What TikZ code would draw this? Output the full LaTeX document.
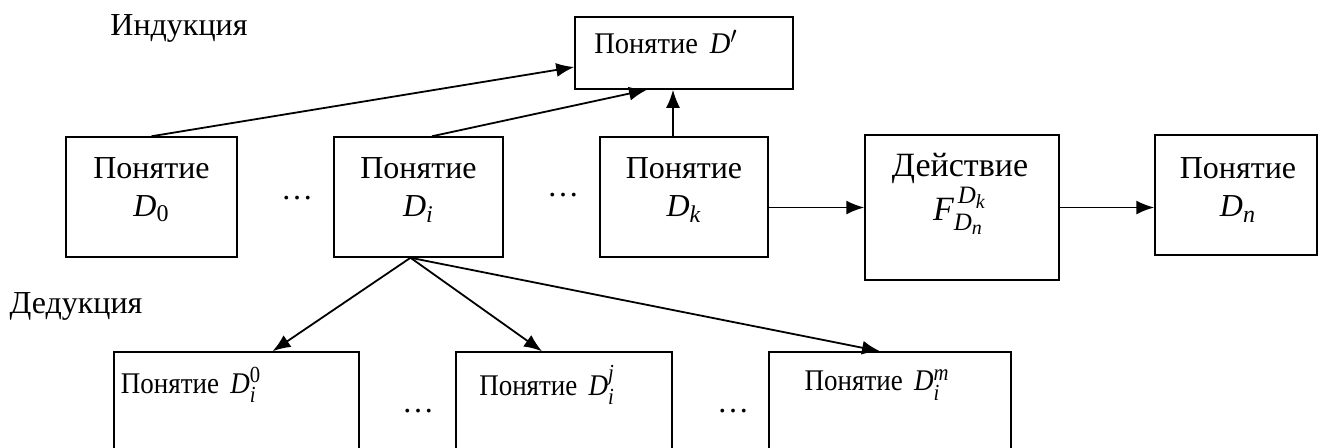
\documentclass[tikz,border=0pt]{standalone}
\usepackage{fontspec}
\usepackage{amsmath}
\usepackage{graphicx}
\setmainfont{Liberation Serif}
\DeclareMathSizes{16}{16}{12}{10}
\DeclareMathSizes{17}{17}{12.5}{10}
\DeclareMathSizes{15}{15}{11.5}{9}
\usetikzlibrary{arrows.meta,calc}
\begin{document}
\begin{tikzpicture}[x=0.5pt,y=-0.5pt,
  box/.style n args={2}{draw, line width=0.75pt, inner sep=0pt,
    minimum width={#1*0.5pt}, minimum height={#2*0.5pt}},
  txt/.style={font=\fontsize{16pt}{19pt}\selectfont, inner sep=0pt, align=center},
  txtb/.style={font=\fontsize{15pt}{18pt}\selectfont, inner sep=0pt, align=center},
  txta/.style={font=\fontsize{17pt}{22pt}\selectfont, inner sep=0pt, align=center},
  arr/.style={line width=0.9pt, -{Latex[length=9pt,width=7pt]}}]
\useasboundingbox (0,0) rectangle (1320,447);
\clip (0,0) rectangle (1320,447);
% labels
\node[txt] (ind) at (179,28) {Индукция};
\node[txt] (ded) at (76,306) {Дедукция};
% top box
\node[box={218}{72}] (dp) at (684,53) {};
\node[txtb] (dpt) at (666,42) {\scalebox{0.95}[1]{Понятие~\,$\textit{D}'$}};
% middle row
\node[box={171}{120}] (d0) at (151.5,197) {};
\node[txt] (d0t) at (151.5,190) {Понятие\\$\textit{D}_{\textrm{0}}$};
\node[box={169}{120}] (di) at (418.5,197) {};
\node[txt] (dit) at (418.5,190) {Понятие\\$\textit{D}_{\textit{i}}$};
\node[box={168}{120}] (dk) at (684,197) {};
\node[txt] (dkt) at (684,190) {Понятие\\$\textit{D}_{\textit{k}}$};
\node[box={194}{145}] (act) at (962,207.5) {};
\node[txta] (actt) at (960,194) {Действие\\$\textit{F}^{\,\textit{D}_{\textit{k}}}_{\textit{D}_{\textit{n}}}$};
\node[box={162}{120}] (dn) at (1236,195) {};
\node[txt] (dnt) at (1238,190) {Понятие\\$\textit{D}_{\textit{n}}$};
% dots
\node[txt] (dots1) at (297,198) {\dots};
\node[txt] (dots2) at (563,195) {\dots};
\node[txt] (dots3) at (418,411) {\dots};
\node[txt] (dots4) at (733,411) {\dots};
% bottom row
\node[box={245}{118}] (b0) at (236.5,411) {};
\node[txtb] (b0t) at (191,385) {\scalebox{0.9}[1]{Понятие~\,$\textit{D}_{\textit{i}}^{\textrm{0}}$}};
\node[box={216}{118}] (bj) at (564,411) {};
\node[txtb] (bjt) at (547,385) {\scalebox{0.9}[1]{Понятие~\,$\textit{D}_{\textit{i}}^{\textit{j}}$}};
\node[box={242}{118}] (bm) at (890,411) {};
\node[txtb] (bmt) at (877,385) {\scalebox{0.9}[1]{Понятие~\,$\textit{D}_{\textit{i}}^{\textit{m}}$}};
% connectors
\draw[arr] (d0.north) -- ([yshift=-7pt]dp.west);
\draw[arr] ([xshift=6.75pt]di.north) -- ([xshift=-18.5pt]dp.south);
\coordinate (kx) at ($(dk.north)+(-11,0)$);
\draw[arr] (kx) -- (kx |- dp.south);
\draw[arr] (act.west -| dk.east) -- (act.west);
\draw[arr] (act.east) -- (act.east -| dn.west);
\coordinate (ds) at ($(di.south)+(-8,0)$);
\draw[arr] (ds) -- ($(b0.north)+(36,0)$);
\draw[arr] (ds) -- ($(bj.north)+(-22,0)$);
\draw[arr] (ds) -- ($(bm.north)+(-10,0)$);
\end{tikzpicture}
\end{document}
